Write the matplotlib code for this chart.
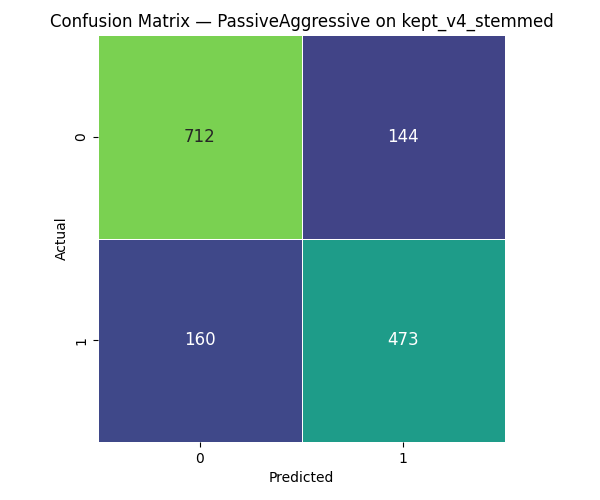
import numpy as np
import matplotlib.pyplot as plt
import seaborn as sns
from matplotlib.colors import ListedColormap

labels = ['0', '1']
cm = np.array([[712, 144],
               [160, 473]])

cmap = ListedColormap(plt.cm.viridis(np.linspace(0.2, 0.8, 256)))

fig = plt.figure(figsize=(6, 5), dpi=100)
ax = fig.add_axes([98 / 600, 1 - 442 / 500, 407 / 600, 407 / 500])
sns.heatmap(cm, annot=True, fmt='d', cmap=cmap, cbar=False, square=True,
            linewidths=0.5, linecolor='white', annot_kws={'fontsize': 12},
            xticklabels=labels, yticklabels=labels, ax=ax)
ax.set_xlabel('Predicted')
ax.set_ylabel('Actual')
ax.set_title('Confusion Matrix — PassiveAggressive on kept_v4_stemmed', fontsize=12)
fig.savefig('out.png')
